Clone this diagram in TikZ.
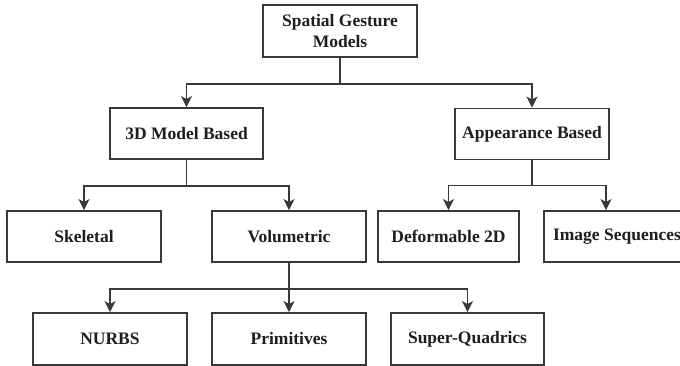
\documentclass[tikz,border=0pt]{standalone}
\usepackage{fontspec}
\setmainfont{Liberation Serif}
\usetikzlibrary{arrows.meta,calc}
\definecolor{ink}{HTML}{1E1E1E}
\definecolor{edge}{HTML}{383838}
\begin{document}
\begin{tikzpicture}[x=1pt,y=-1pt,
  box/.style={draw=edge, line width=1.9pt, rectangle, minimum height=51pt,
    inner sep=2pt, align=center, text=ink,
    font=\fontsize{17.5}{21}\selectfont\bfseries},
  link/.style={draw=edge, line width=1.6pt,
    -{Stealth[length=11pt,width=11pt,inset=3pt]}}]
\useasboundingbox (0,0) rectangle (680,366);
\fill[white] (0,0) rectangle (680,366);

% tree of boxes
\node[box, minimum width=154pt, minimum height=52pt] (root) at (340,31) {Spatial Gesture\\Models};
\node[box, minimum width=153pt] (model3d) at (186.5,133.5) {3D Model Based};
\node[box, minimum width=154pt] (appear) at (532,134) {Appearance Based};
\node[box, minimum width=154pt] (skel) at (84,236.5) {Skeletal};
\node[box, minimum width=154pt] (volum) at (289,236.5) {Volumetric};
\node[box, minimum width=141pt] (deform) at (448.5,236.5) {Deformable 2D};
\node[box, minimum width=146pt] (imgseq) at (617,236.5) {Image Sequences};
\node[box, minimum width=154pt, minimum height=52pt] (nurbs) at (110,339) {NURBS};
\node[box, minimum width=154pt, minimum height=52pt] (prims) at (289,339) {Primitives};
\node[box, minimum width=153pt, minimum height=52pt] (quad) at (467.5,339) {Super-Quadrics};

% branch points
\coordinate (jroot) at ($(root.south)+(0,26)$);
\coordinate (j3d) at ($(model3d.south)+(0,26)$);
\coordinate (japp) at ($(appear.south)+(0,25)$);
\coordinate (jvol) at ($(volum.south)+(0,26)$);
\coordinate (imgin) at ([xshift=-11pt]imgseq.north);

% connectors
\draw[link] (root.south) -- (jroot) -| (model3d.north);
\draw[link] (jroot) -| (appear.north);
\draw[link] (model3d.south) -- (j3d) -| (skel.north);
\draw[link] (j3d) -| (volum.north);
\draw[link] (appear.south) -- (japp) -| (deform.north);
\draw[link] (japp) -| (imgin);
\draw[link] (volum.south) -- (jvol) -| (nurbs.north);
\draw[link] (jvol) -- (prims.north);
\draw[link] (jvol) -| (quad.north);
\end{tikzpicture}
\end{document}
